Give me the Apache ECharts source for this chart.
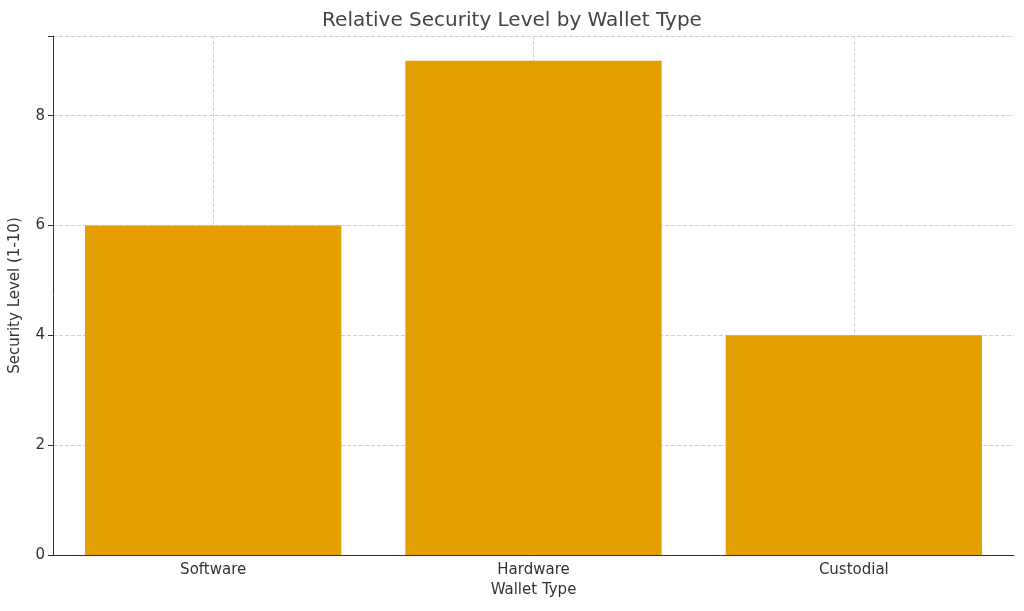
<!DOCTYPE html>
<html>
<head>
<meta charset="utf-8">
<script src="https://cdn.jsdelivr.net/npm/echarts@6/dist/echarts.min.js"></script>
<style>html,body{margin:0;padding:0;background:#fff}#chart{width:1024px;height:611px}</style>
</head>
<body>
<div id="chart"></div>
<script>
// wallet types and their security scores
var walletTypes = ['Software', 'Hardware', 'Custodial'];
var securityLevels = [6, 9, 4];
var yTicks = [0, 2, 4, 6, 8];

var chart = echarts.init(document.getElementById('chart'));
var font = 'DejaVu Sans';

chart.setOption({
  animation: false,
  title: {
    text: 'Relative Security Level by Wallet Type',
    left: 'center', top: 6,
    textStyle: { fontFamily: font, fontSize: 20, fontWeight: 'normal', color: '#444' }
  },
  grid: { left: 49, right: 10, top: 36, bottom: 56 },
  xAxis: {
    type: 'category',
    data: walletTypes,
    name: 'Wallet Type',
    nameLocation: 'middle',
    nameGap: 28,
    nameTextStyle: { fontFamily: font, fontSize: 15, color: '#333' },
    axisLine: { lineStyle: { color: '#333' } },
    axisTick: { alignWithLabel: true, lineStyle: { color: '#333' } },
    axisLabel: { fontFamily: font, fontSize: 15, color: '#333' },
    splitLine: { show: false }
  },
  yAxis: {
    type: 'value',
    min: 0, max: 9.45, interval: 2,
    name: 'Security Level (1-10)',
    nameLocation: 'middle',
    nameGap: 30,
    nameTextStyle: { fontFamily: font, fontSize: 15, color: '#333' },
    axisLine: { show: true, lineStyle: { color: '#333' } },
    axisTick: { show: true, lineStyle: { color: '#333' } },
    axisLabel: {
      fontFamily: font, fontSize: 15, color: '#333',
      formatter: function (v) { return yTicks.indexOf(v) >= 0 ? v : ''; }
    },
    splitLine: { lineStyle: { color: '#d0d0d0', type: 'dashed' } }
  },
  series: [
    {
      type: 'line', data: [], z: 0,
      markLine: {
        silent: true, symbol: 'none', label: { show: false },
        lineStyle: { color: '#d0d0d0', type: 'dashed', width: 1 },
        data: walletTypes.map(function (w) { return { xAxis: w }; })
      }
    },
    {
      type: 'bar', z: 5,
      data: securityLevels,
      barWidth: '80%',
      itemStyle: { color: '#e69f00' }
    }
  ]
});
</script>
</body>
</html>
